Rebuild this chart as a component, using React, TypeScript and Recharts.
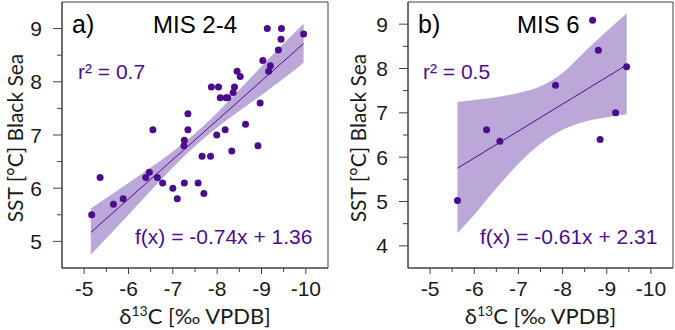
import React from 'react';
import { ComposedChart, Scatter, Line, Area, XAxis, YAxis, ReferenceArea, Customized } from 'recharts';

// ---- Panel a) MIS 2-4 ----
const misA_d13C = [-5.17, -5.36, -5.66, -5.88, -6.39, -6.47, -6.55, -6.65, -6.77, -7.0, -7.1, -7.26, -7.25, -7.26, -7.34, -7.34, -7.57, -7.66, -7.7, -7.85, -7.87, -7.99, -8.03, -8.07, -8.18, -8.2, -8.24, -8.33, -8.36, -8.39, -8.45, -8.52, -8.64, -8.92, -8.97, -9.03, -9.13, -9.16, -9.2, -9.38, -9.44, -9.45, -9.95];
const misA_sst = [5.5, 6.2, 5.7, 5.8, 6.2, 6.3, 7.1, 6.2, 6.1, 6.0, 5.8, 6.1, 6.8, 6.9, 7.4, 7.1, 6.1, 6.6, 5.9, 6.6, 7.9, 7.0, 7.9, 7.7, 7.1, 7.7, 7.7, 6.7, 7.8, 7.9, 8.2, 8.1, 7.2, 6.8, 7.6, 8.4, 9.0, 8.2, 8.3, 8.6, 8.8, 9.0, 8.9];
const bandA_x = [-5.15, -6.0, -6.5, -7.0, -7.5, -8.0, -8.5, -9.0, -9.5, -9.95];
const bandA_lo = [4.75, 5.5, 5.95, 6.39, 6.79, 7.14, 7.45, 7.75, 8.06, 8.36];
const bandA_hi = [5.62, 6.1, 6.39, 6.69, 7.03, 7.42, 7.85, 8.29, 8.72, 9.09];
const fitA_x = [-5.15, -9.95];
const fitA_y = [5.17, 8.72];

// ---- Panel b) MIS 6 ----
const misB_d13C = [-5.62, -6.28, -6.58, -7.84, -8.68, -8.81, -8.85, -9.2, -9.45];
const misB_sst = [5.02, 6.62, 6.36, 7.62, 9.09, 8.41, 6.4, 7.0, 8.04];
const bandB_x = [-5.62, -6.0, -6.5, -7.0, -7.5, -8.0, -8.5, -9.0, -9.45];
const bandB_lo = [4.29, 4.7, 5.3, 5.85, 6.3, 6.62, 6.8, 6.9, 6.97];
const bandB_hi = [7.25, 7.29, 7.35, 7.45, 7.6, 7.9, 8.38, 8.84, 9.24];
const fitB_x = [-5.62, -9.45];
const fitB_y = [5.75, 8.08];

// ---- Axes ----
const xTicks = [-5, -5.5, -6, -6.5, -7, -7.5, -8, -8.5, -9, -9.5, -10];
const yTicksA = [5, 5.5, 6, 6.5, 7, 7.5, 8, 8.5, 9];
const yTicksB = [4, 4.5, 5, 5.5, 6, 6.5, 7, 7.5, 8, 8.5, 9];
const xDomain = [-10.5, -4.5];
const yDomainA = [4.5, 9.5];
const yDomainB = [3.5, 9.5];

const PURPLE = '#4a0e8c';
const BAND = '#bba8d8';
const AXIS = '#404040';
const TXT = '#1a1a1a';
const ARIAL = '"Liberation Sans", Arial, sans-serif';
const LATO = 'Lato, "Open Sans", sans-serif';

const toPoints = (xs: number[], ys: number[]) => xs.map((x, i) => ({ x, y: ys[i] }));
const toBand = (xs: number[], lo: number[], hi: number[], fx: number[], fy: number[]) =>
  xs.map((x, i) => {
    const k = fx.indexOf(x);
    return { x, lo: lo[i], hi: hi[i], fit: k >= 0 ? fy[k] : null };
  });

const XTick = (props: any) => {
  const { x, y, payload } = props;
  const v = payload.value;
  const major = Number.isInteger(v);
  return (
    <g>
      <line x1={x} x2={x} y1={y} y2={y + (major ? 6 : 4)} stroke={AXIS} strokeWidth={1} />
      {major && (
        <text x={x} y={y + 28} textAnchor="middle" fontSize={21} fontFamily={ARIAL} fill={TXT}>
          {String(v)}
        </text>
      )}
    </g>
  );
};

const YTick = (props: any) => {
  const { x, y, payload } = props;
  const v = payload.value;
  const major = Number.isInteger(v);
  return (
    <g>
      <line x1={x} x2={x - (major ? 9 : 5)} y1={y} y2={y} stroke={AXIS} strokeWidth={1} />
      {major && (
        <text x={x - 20} y={y + 7.5} textAnchor="end" fontSize={21} fontFamily={ARIAL} fill={TXT}>
          {String(v)}
        </text>
      )}
    </g>
  );
};

const Dot = (p: any) => <circle cx={p.cx} cy={p.cy} r={3.5} fill={PURPLE} />;

type PanelProps = {
  width: number;
  yAxisWidth: number;
  rightMargin: number;
  yDomain: number[];
  yTicks: number[];
  points: { x: number; y: number }[];
  band: any[];
  letter: string;
  title: string;
  titleX: number;
  r2: string;
  r2X: number;
  fx: string;
  fxX: number;
  yLabelX: number;
};

const Panel = (p: PanelProps) => {
  const plotCenterX = (p.yAxisWidth + (p.width - p.rightMargin)) / 2;
  return (
    <ComposedChart
      width={p.width}
      height={330}
      data={p.band}
      margin={{ top: 2, right: p.rightMargin, bottom: 0, left: 0 }}
    >
      <XAxis
        type="number"
        dataKey="x"
        domain={xDomain}
        reversed
        allowDataOverflow
        ticks={xTicks}
        interval={0}
        tickSize={0}
        tickMargin={0}
        tick={<XTick />}
        height={62}
        stroke={AXIS}
      />
      <YAxis
        type="number"
        domain={p.yDomain}
        allowDataOverflow
        ticks={p.yTicks}
        interval={0}
        tickSize={0}
        tickMargin={0}
        tick={<YTick />}
        width={p.yAxisWidth}
        stroke={AXIS}
      />
      <ReferenceArea
        x1={xDomain[0]}
        x2={xDomain[1]}
        y1={p.yDomain[0]}
        y2={p.yDomain[1]}
        fill="none"
        stroke={AXIS}
        strokeWidth={1}
        ifOverflow="visible"
      />
      <Area
        type="monotone"
        dataKey={(d: any) => [d.lo, d.hi]}
        stroke="none"
        fill={BAND}
        fillOpacity={1}
        isAnimationActive={false}
        activeDot={false}
      />
      <Line
        type="linear"
        dataKey="fit"
        stroke={PURPLE}
        strokeWidth={1}
        dot={false}
        activeDot={false}
        connectNulls
        isAnimationActive={false}
      />
      <Scatter data={p.points} dataKey="y" shape={<Dot />} isAnimationActive={false} />
      <Customized
        component={() => (
          <g>
            <text x={p.yAxisWidth + 10} y={33} fontSize={25} fontFamily={ARIAL} fill="#000">
              {p.letter}
            </text>
            <text x={p.titleX} y={33} fontSize={24} fontFamily={ARIAL} fill="#000">
              {p.title}
            </text>
            <text x={p.r2X} y={79} fontSize={21} fontFamily={ARIAL} fill={PURPLE}>
              {p.r2}
            </text>
            <text x={p.fxX} y={244} fontSize={21} fontFamily={ARIAL} fill={PURPLE}>
              {p.fx}
            </text>
            <text
              x={p.yLabelX}
              y={138}
              transform={`rotate(-90, ${p.yLabelX}, 138)`}
              textAnchor="middle"
              dominantBaseline="central"
              fontSize={21}
              fontFamily={LATO}
              fill={TXT}
            >
              SST [°C] Black Sea
            </text>
            <text x={plotCenterX} y={324} textAnchor="middle" fontSize={22} fontFamily={LATO} fill={TXT}>
              δ<tspan dy={-8} fontSize={14}>13</tspan>
              <tspan dy={8}>C [‰ VPDB]</tspan>
            </text>
          </g>
        )}
      />
    </ComposedChart>
  );
};

export default function App() {
  const pointsA = toPoints(misA_d13C, misA_sst);
  const pointsB = toPoints(misB_d13C, misB_sst);
  const bandA = toBand(bandA_x, bandA_lo, bandA_hi, fitA_x, fitA_y);
  const bandB = toBand(bandB_x, bandB_lo, bandB_hi, fitB_x, fitB_y);
  return (
    <div style={{ position: 'absolute', left: 0, top: 0, width: 675, height: 330, background: '#fff' }}>
      <div style={{ position: 'absolute', left: 0, top: 0 }}>
        <Panel
          width={337}
          yAxisWidth={62}
          rightMargin={9}
          yDomain={yDomainA}
          yTicks={yTicksA}
          points={pointsA}
          band={bandA}
          letter="a)"
          title="MIS 2-4"
          titleX={153}
          r2="r² = 0.7"
          r2X={78}
          fx="f(x) = -0.74x + 1.36"
          fxX={135}
          yLabelX={14}
        />
      </div>
      <div style={{ position: 'absolute', left: 340, top: 0 }}>
        <Panel
          width={335}
          yAxisWidth={68}
          rightMargin={2}
          yDomain={yDomainB}
          yTicks={yTicksB}
          points={pointsB}
          band={bandB}
          letter="b)"
          title="MIS 6"
          titleX={177}
          r2="r² = 0.5"
          r2X={83}
          fx="f(x) = -0.61x + 2.31"
          fxX={140}
          yLabelX={17}
        />
      </div>
    </div>
  );
}
